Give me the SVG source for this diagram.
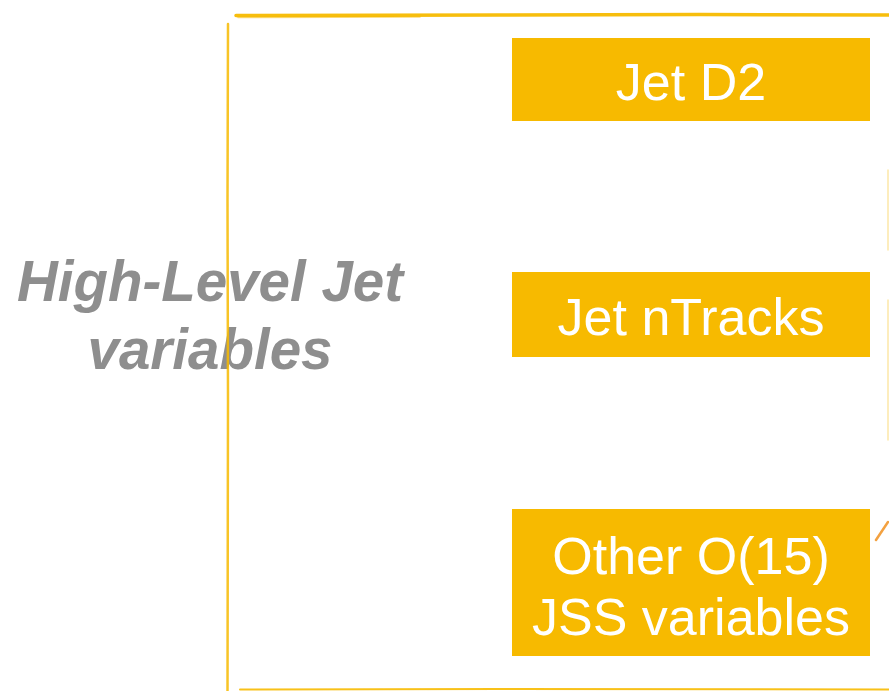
<svg xmlns="http://www.w3.org/2000/svg" width="889" height="691" viewBox="0 0 889 691">
<style>
.box{fill:#F7BA00}
.lbl{font-family:"Liberation Sans",Arial,sans-serif;font-size:52px;fill:#ffffff;text-anchor:middle}
.title{font-family:"Liberation Sans",Arial,sans-serif;font-size:56.5px;font-weight:bold;font-style:italic;fill:#8E8E8E;text-anchor:middle}
.frame{fill:none;stroke:#F7BA00;stroke-linecap:round}
</style>
<rect width="889" height="691" fill="#ffffff"/>
<g id="title">
<text class="title" x="210" y="301">High-Level Jet</text>
<text class="title" x="210" y="369">variables</text>
</g>
<g id="frame">
<path class="frame" d="M236 15.5 L500 15 L700 14.5 L889 15" stroke-width="3.5" opacity="0.95"/>
<path class="frame" d="M238 17.5 L420 17" stroke-width="1.5" opacity="0.5"/>
<path class="frame" d="M228 24 L227.5 200 L228 400 L227.5 691" stroke-width="2.5" opacity="0.85"/>
<path class="frame" d="M240 689.5 L500 689 L889 689.5" stroke-width="2" opacity="0.9"/>
<path class="frame" d="M888 170 L888 250" stroke-width="1.5" opacity="0.35"/>
<path class="frame" d="M888 300 L888 440" stroke-width="1.5" opacity="0.35"/>
<path d="M876 540 L888 522" fill="none" stroke="#F08A10" stroke-width="2.5" stroke-linecap="round" opacity="0.8"/>
</g>
<g id="node-d2">
<rect class="box" x="512" y="38" width="358" height="83"/>
<text class="lbl" x="691" y="100">Jet D2</text>
</g>
<g id="node-ntracks">
<rect class="box" x="512" y="272" width="358" height="85"/>
<text class="lbl" x="691" y="335">Jet nTracks</text>
</g>
<g id="node-other">
<rect class="box" x="512" y="509" width="358" height="147"/>
<text class="lbl" x="691" y="574">Other O(15)</text>
<text class="lbl" x="691" y="635">JSS variables</text>
</g>
<g id="connectors"/>
</svg>
